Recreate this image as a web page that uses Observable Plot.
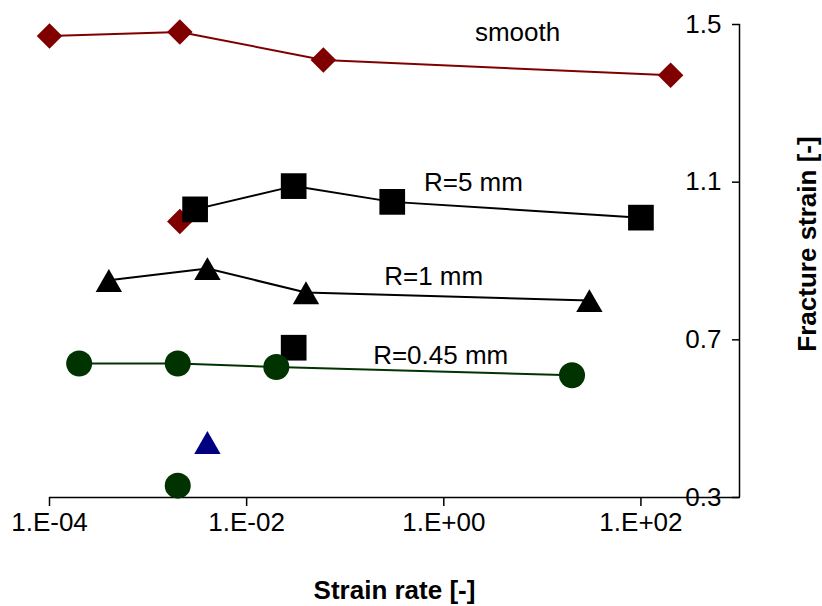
<!DOCTYPE html>
<html><head><meta charset="utf-8">
<script src="https://cdn.jsdelivr.net/npm/d3@7"></script>
<script src="https://cdn.jsdelivr.net/npm/@observablehq/plot@0.6"></script>
<style>body{margin:0;background:#fff;} svg{display:block}</style>
</head><body><div id="chart"></div>
<script>
// Series: smooth specimen (diamonds)
const smoothX = [1e-4, 2.1e-3, 0.06, 200];
const smoothY = [1.471, 1.481, 1.410, 1.371];
// R=5 mm (squares)
const r5X = [3e-3, 0.03, 0.3, 100];
const r5Y = [1.031, 1.090, 1.050, 1.010];
// R=1 mm (triangles)
const r1X = [4e-4, 4e-3, 0.04, 30];
const r1Y = [0.851, 0.881, 0.820, 0.800];
// R=0.45 mm (circles)
const r045X = [2e-4, 2e-3, 0.02, 20];
const r045Y = [0.640, 0.640, 0.631, 0.610];
// Isolated points
const loneDiamondX = [2.1e-3], loneDiamondY = [1.000];
const loneSquareX = [0.03], loneSquareY = [0.680];
const loneTriangleX = [4e-3], loneTriangleY = [0.440];
const loneCircleX = [2e-3], loneCircleY = [0.330];
// Series labels
const seriesLabels = ["smooth", "R=5 mm", "R=1 mm", "R=0.45 mm"];
const labelX = [5.6, 2.0, 0.79, 0.93];
const labelY = [1.478, 1.098, 0.861, 0.660];
// Ticks
const xTicks = [1e-4, 1e-2, 1, 100];
const xTickLabels = ["1.E-04", "1.E-02", "1.E+00", "1.E+02"];
const yTicks = [0.3, 0.7, 1.1, 1.5];
const yTickLabels = ["0.3", "0.7", "1.1", "1.5"];
const xTitle = "Strain rate [-]";
const yTitle = "Fracture strain [-]";

const pts = (xs, ys) => xs.map((x, i) => ({x, y: ys[i]}));
const smooth = pts(smoothX, smoothY), r5 = pts(r5X, r5Y), r1 = pts(r1X, r1Y), r045 = pts(r045X, r045Y);
const labels = seriesLabels.map((t, i) => ({t, x: labelX[i], y: labelY[i]}));

const RED = "#800000", GREEN = "#003300", NAVY = "#000080";
const FONT = "Liberation Sans, Arial, sans-serif";

const chart = Plot.plot({
  width: 822, height: 606,
  marginTop: 24, marginRight: 83, marginBottom: 109, marginLeft: 49,
  style: {fontFamily: FONT, fontSize: "26px", background: "#fff", color: "#000"},
  x: {type: "log", domain: [1e-4, 1e3]},
  y: {domain: [0.3, 1.5]},
  marks: [
    Plot.ruleY([0.3], {stroke: "#000", strokeWidth: 1.5}),
    Plot.ruleX([1000], {stroke: "#000", strokeWidth: 1.5}),
    Plot.axisX({ticks: xTicks, tickFormat: d => xTickLabels[xTicks.indexOf(d)], tickSize: 9, tickPadding: 6, strokeWidth: 1.5, fontSize: 26, label: null}),
    Plot.axisY({anchor: "right", ticks: yTicks, tickFormat: d => yTickLabels[yTicks.indexOf(d)], tickSize: -8, tickPadding: -10, textAnchor: "end", strokeWidth: 1.5, fontSize: 26, label: null}),
    Plot.line(smooth, {x: "x", y: "y", stroke: RED, strokeWidth: 2}),
    Plot.line(r5, {x: "x", y: "y", stroke: "#000", strokeWidth: 2}),
    Plot.line(r1, {x: "x", y: "y", stroke: "#000", strokeWidth: 2}),
    Plot.line(r045, {x: "x", y: "y", stroke: GREEN, strokeWidth: 2}),
    Plot.dot(smooth, {x: "x", y: "y", symbol: "diamond2", r: 11.5, fill: RED, stroke: "none"}),
    Plot.dot(pts(loneDiamondX, loneDiamondY), {x: "x", y: "y", symbol: "diamond2", r: 11.5, fill: RED, stroke: "none"}),
    Plot.dot(r5, {x: "x", y: "y", symbol: "square", r: 14.5, fill: "#000", stroke: "none"}),
    Plot.dot(pts(loneSquareX, loneSquareY), {x: "x", y: "y", symbol: "square", r: 14.5, fill: "#000", stroke: "none"}),
    Plot.dot(r1, {x: "x", y: "y", symbol: "triangle", r: 9.8, fill: "#000", stroke: "none", dy: 4}),
    Plot.dot(pts(loneTriangleX, loneTriangleY), {x: "x", y: "y", symbol: "triangle", r: 9.8, fill: NAVY, stroke: "none", dy: 4}),
    Plot.dot(r045, {x: "x", y: "y", symbol: "circle", r: 13, fill: GREEN, stroke: "none"}),
    Plot.dot(pts(loneCircleX, loneCircleY), {x: "x", y: "y", symbol: "circle", r: 13, fill: GREEN, stroke: "none"}),
    Plot.text(labels, {x: "x", y: "y", text: "t", fontSize: 26, fill: "#000", textAnchor: "middle", lineAnchor: "middle"}),
    Plot.text([xTitle], {frameAnchor: "bottom", dy: 93, fontSize: 26, fontWeight: "bold", fill: "#000", textAnchor: "middle", lineAnchor: "middle"}),
    Plot.text([yTitle], {frameAnchor: "right", dx: 68, dy: -17, rotate: -90, fontSize: 26, fontWeight: "bold", fill: "#000", textAnchor: "middle", lineAnchor: "middle"})
  ]
});
document.getElementById("chart").appendChild(chart);
</script>
</body></html>
